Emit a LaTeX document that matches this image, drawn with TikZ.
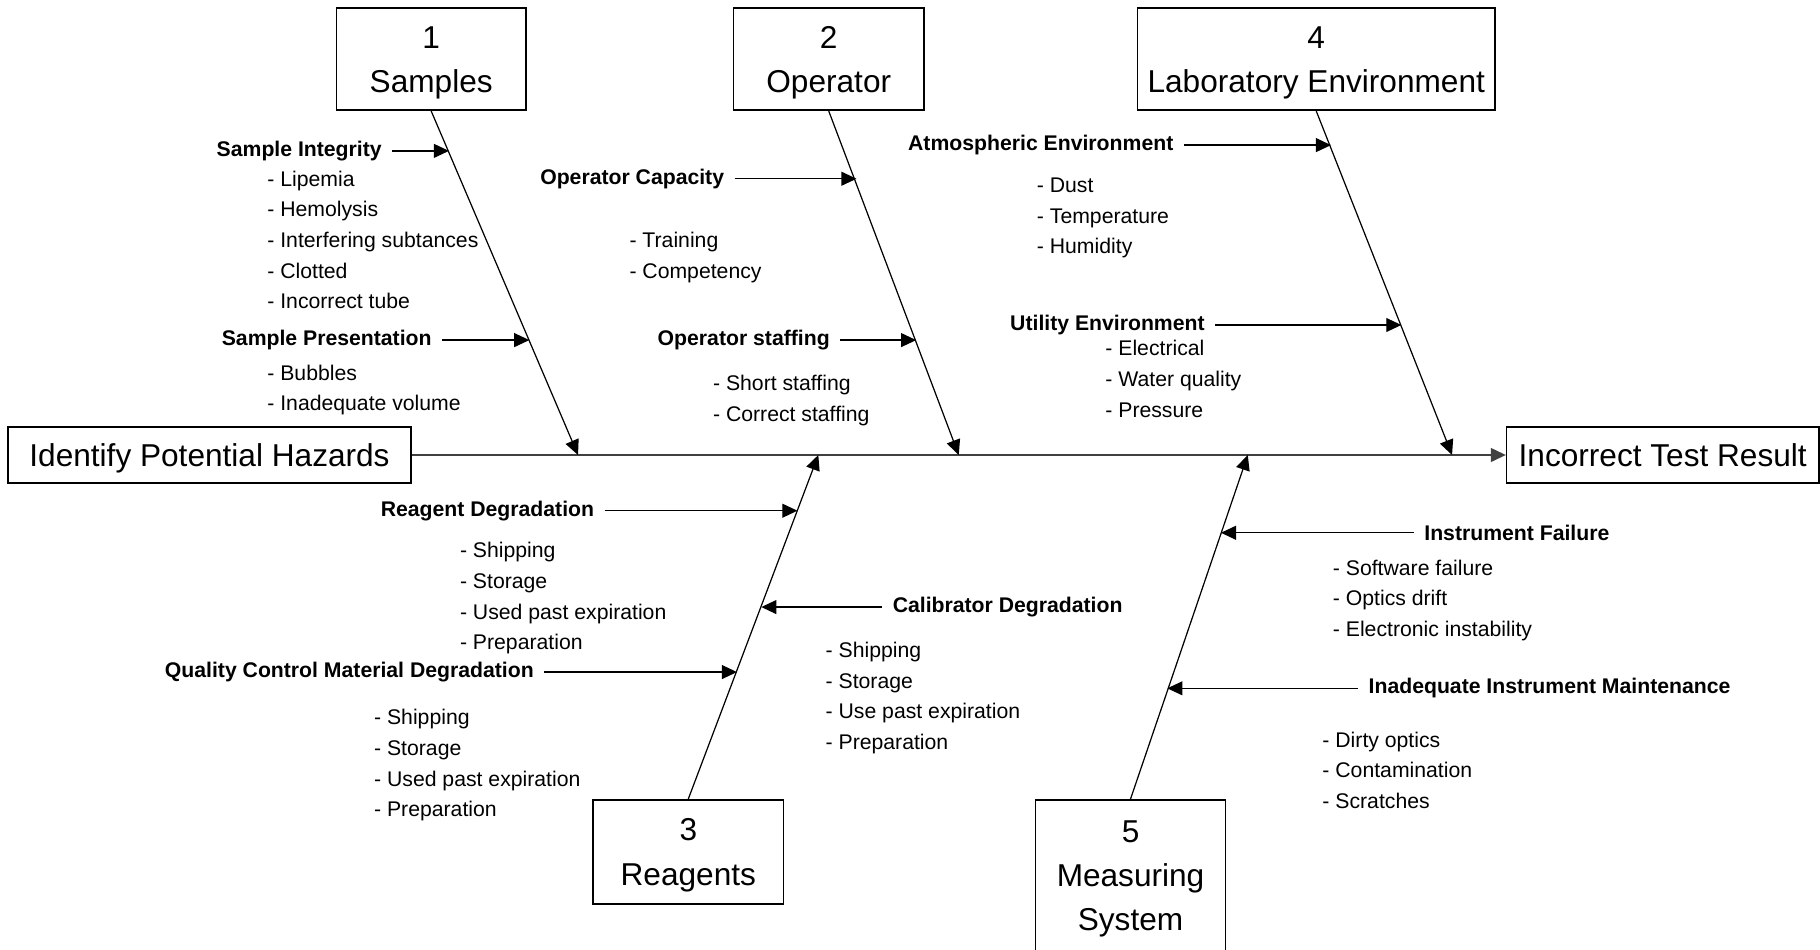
\documentclass[tikz,border=0pt]{standalone}
\usepackage{fontspec}
\setmainfont{Liberation Sans}
\usetikzlibrary{arrows.meta}

\begin{document}
\begin{tikzpicture}[x=0.02cm,y=-0.02cm,
	cat/.style={draw,line width=0.8pt,align=center,inner sep=0pt,text depth=0pt,font=\fontsize{15.5}{21.6}\selectfont},
	head/.style={font=\fontsize{10.4}{15}\selectfont\bfseries,inner xsep=5pt,inner ysep=0pt},
	items/.style={anchor=north west,align=left,inner sep=0pt,font=\fontsize{10.4}{15}\selectfont},
	bone/.style={line width=0.6pt,-{Triangle[length=0.26cm,width=0.24cm]}}]
				\useasboundingbox (0,0) rectangle (1568,818);
				\node[cat,minimum width=3.26cm,minimum height=1.76cm] (b1) at (371.5,51) {1\\Samples};
				\node[cat,minimum width=3.28cm,minimum height=1.76cm] (b2) at (714,51) {2\\Operator};
				\node[cat,minimum width=6.16cm,minimum height=1.76cm] (b4) at (1134,51) {4\\Laboratory Environment};
				\node[cat,minimum width=3.28cm,minimum height=1.8cm] (b3) at (593,734) {3\\Reagents};
				\node[cat,minimum width=3.27cm,minimum height=2.6cm] (b5) at (974,754) {5\\Measuring\\System};
				\node[cat,minimum width=6.94cm,minimum height=0.96cm] (hz) at (180.5,392) {Identify Potential Hazards};
				\node[cat,minimum width=5.38cm,minimum height=0.96cm] (res) at (1432.5,392) {Incorrect Test Result};
				\coordinate (s1) at (498,392);
				\coordinate (s2) at (826,392);
				\coordinate (s4) at (1251,392);
				\coordinate (s3) at (705,392);
				\coordinate (s5) at (1075,392);
				\draw[bone,line width=0.8pt,draw=black!75] (hz) -- (res);
				\draw[bone] (b1.south) -- (s1);
				\draw[bone] (b2.south) -- (s2);
				\draw[bone] (b4.south) -- (s4);
				\draw[bone] (b3.north) -- (s3);
				\draw[bone] (b5.north) -- (s5);
				\node[head,anchor=east] (si) at (338,130) {Sample Integrity};
				\coordinate (t1) at (386.8,130);
				\draw[bone] (si) -- (t1);
				\node[items] (l1) at (230,147) {- Lipemia\\- Hemolysis\\- Interfering subtances\\- Clotted\\- Incorrect tube};
				\node[head,anchor=east] (sp) at (381,293) {Sample Presentation};
				\coordinate (t2) at (456,293);
				\draw[bone] (sp) -- (t2);
				\node[items] (l2) at (230,314) {- Bubbles\\- Inadequate volume};
				\node[head,anchor=east] (oc) at (633,154) {Operator Capacity};
				\coordinate (t3) at (737.9,154);
				\draw[bone] (oc) -- (t3);
				\node[items] (l3) at (542,200) {- Training\\- Competency};
				\node[head,anchor=east] (os) at (724,293) {Operator staffing};
				\coordinate (t4) at (789.3,293);
				\draw[bone] (os) -- (t4);
				\node[items] (l4) at (614,323) {- Short staffing\\- Correct staffing};
				\node[head,anchor=east] (ae) at (1020,125) {Atmospheric Environment};
				\coordinate (t5) at (1146.7,125);
				\draw[bone] (ae) -- (t5);
				\node[items] (l5) at (893,153) {- Dust\\- Temperature\\- Humidity};
				\node[head,anchor=east] (ue) at (1047,280) {Utility Environment};
				\coordinate (t6) at (1207.3,280);
				\draw[bone] (ue) -- (t6);
				\node[items] (l6) at (952,293) {- Electrical\\- Water quality\\- Pressure};
				\node[head,anchor=east] (rd) at (521,440) {Reagent Degradation};
				\coordinate (t7) at (687,440);
				\draw[bone] (rd) -- (t7);
				\node[items] (l7) at (396,467) {- Shipping\\- Storage\\- Used past expiration\\- Preparation};
				\node[head,anchor=east] (qc) at (469,579) {Quality Control Material Degradation};
				\coordinate (t8) at (634.9,579);
				\draw[bone] (qc) -- (t8);
				\node[items] (l8) at (322,611) {- Shipping\\- Storage\\- Used past expiration\\- Preparation};
				\node[head,anchor=west] (cd) at (760,523) {Calibrator Degradation};
				\coordinate (t9) at (655.9,523);
				\draw[bone] (cd) -- (t9);
				\node[items] (l9) at (711,553) {- Shipping\\- Storage\\- Use past expiration\\- Preparation};
				\node[head,anchor=west] (inf) at (1218,459) {Instrument Failure};
				\coordinate (t10) at (1051.9,459);
				\draw[bone] (inf) -- (t10);
				\node[items] (l10) at (1148,482) {- Software failure\\- Optics drift\\- Electronic instability};
				\node[head,anchor=west] (im) at (1170,593) {Inadequate Instrument Maintenance};
				\coordinate (t11) at (1005.7,593);
				\draw[bone] (im) -- (t11);
				\node[items] (l11) at (1139,630) {- Dirty optics\\- Contamination\\- Scratches};
			\end{tikzpicture}
\end{document}
